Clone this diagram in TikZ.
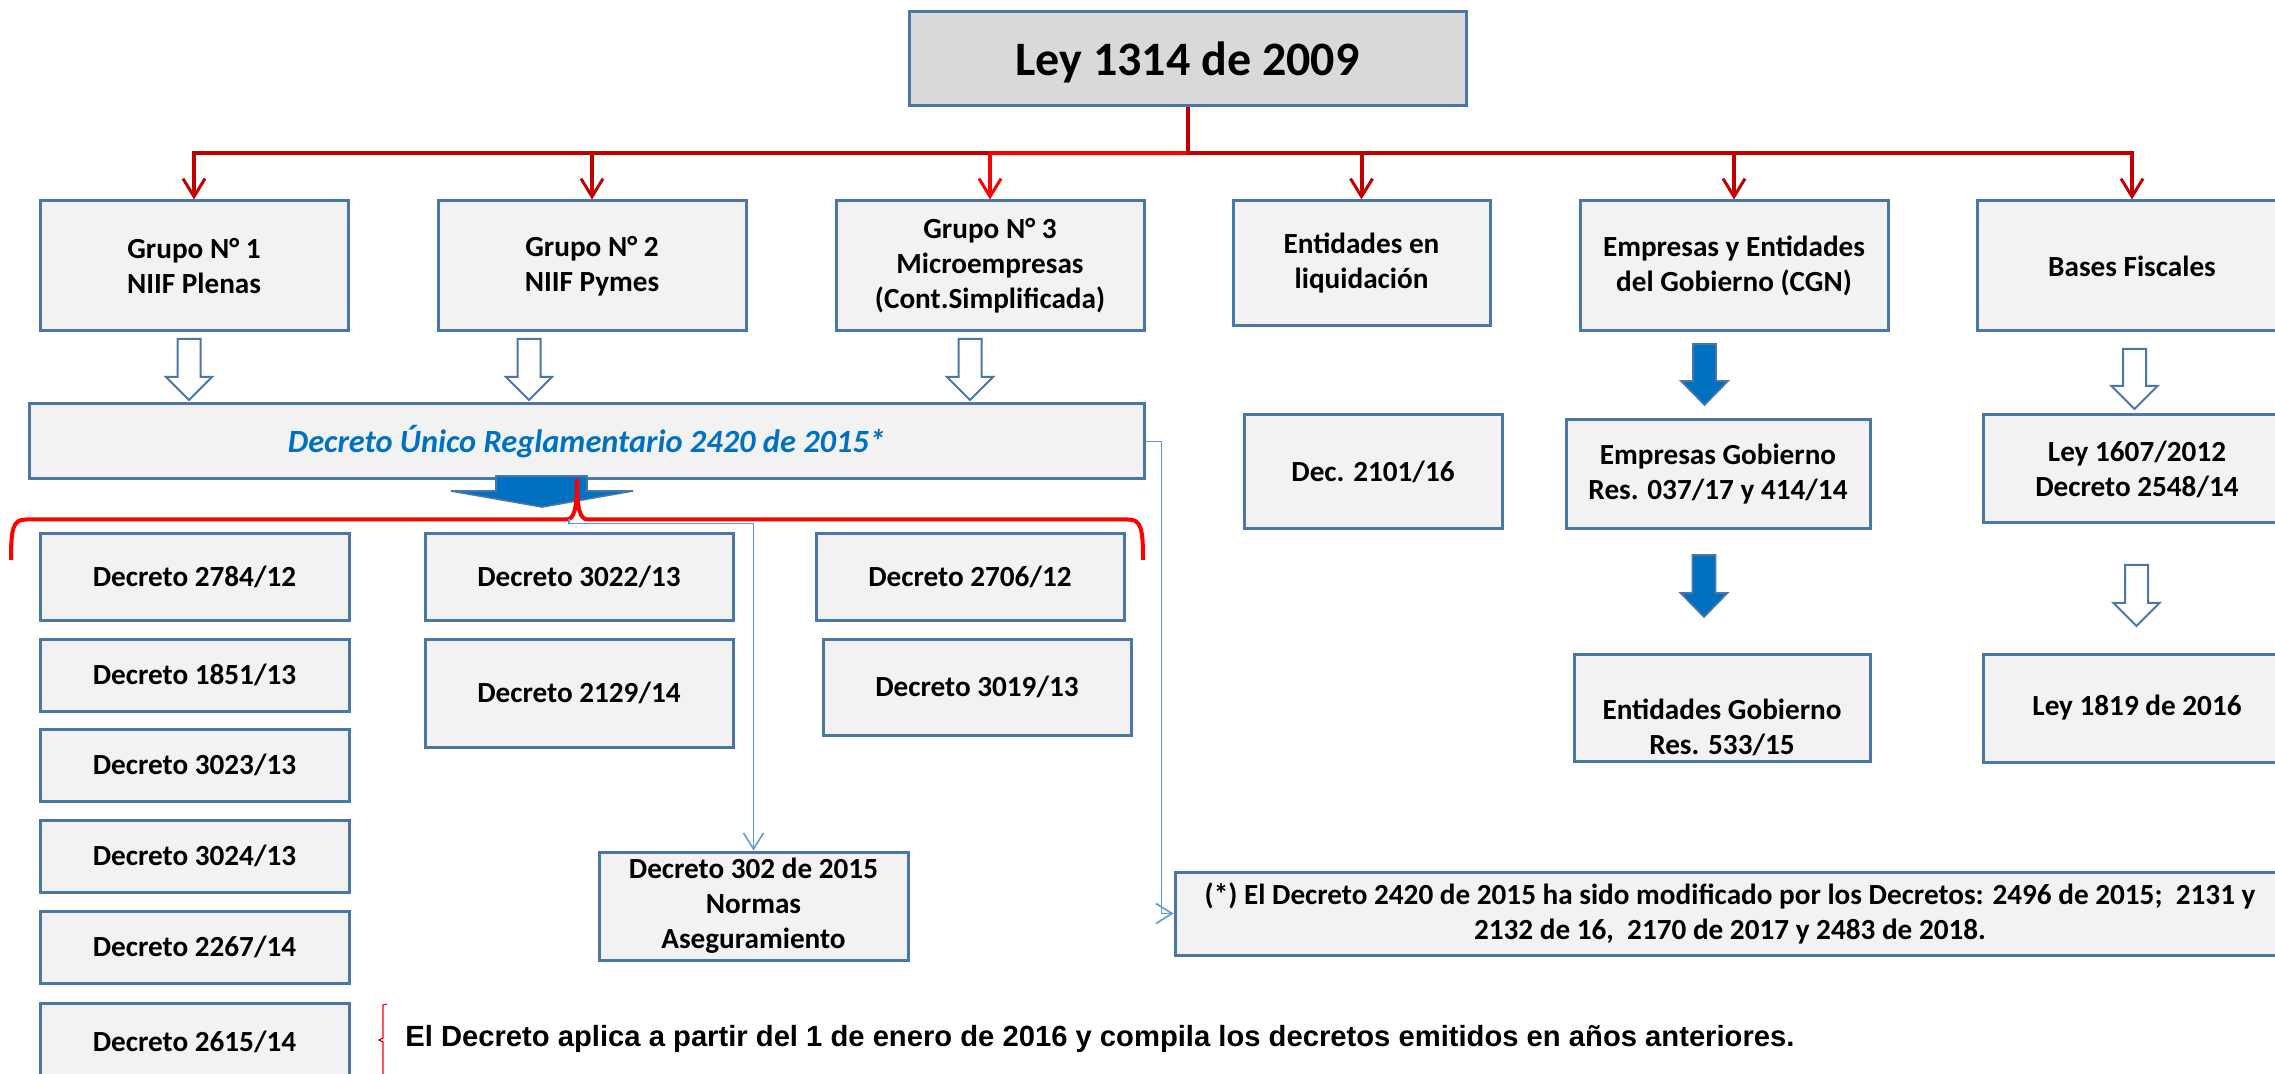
\documentclass[tikz,border=0pt]{standalone}
\usepackage{fontspec}
\setmainfont{Carlito}
\newfontfamily\arialfont{Liberation Sans}
\usetikzlibrary{arrows.meta}
\definecolor{boxline}{HTML}{4A76A8}
\definecolor{boxfill}{HTML}{F2F2F2}
\definecolor{leyfill}{HTML}{D9D9D9}
\definecolor{dkred}{HTML}{C00000}
\definecolor{brred}{HTML}{FF0000}
\definecolor{solidblue}{HTML}{0070C0}
\definecolor{ltblue}{HTML}{5B9BD5}
% #1 options, #2 name, #3 x1, #4 y1, #5 x2, #6 y2, #7 text  (px coordinates, 1px = 0.5pt)
\newcommand\mkbox[7][]{%
  \pgfmathsetmacro\mkcx{(#3+#5)/2}\pgfmathsetmacro\mkcy{(#4+#6)/2}%
  \pgfmathsetmacro\mkw{(#5-#3)*0.5}\pgfmathsetmacro\mkh{(#6-#4)*0.5}%
  \node[box, minimum width=\mkw pt, minimum height=\mkh pt, #1] (#2) at (\mkcx,\mkcy) {#7};}
\begin{document}
\begin{tikzpicture}[x=0.5pt,y=-0.5pt,
  box/.style={draw=boxline, line width=1.5pt, fill=boxfill, inner sep=0pt, align=center,
    font=\bfseries\fontsize{14.6}{17.5}\selectfont},
  redconn/.style={draw=dkred, line width=2pt, -{Straight Barb[length=9pt,width=11pt,line width=1.5pt]}},
  brconn/.style={redconn, draw=brred},
  ltconn/.style={draw=ltblue, line width=0.8pt, -{Straight Barb[length=8pt,width=10pt,line width=0.8pt]}},
  hollowarr/.style={draw=boxline, line width=1pt, fill=white},
  solidarr/.style={draw=boxline, line width=0.8pt, fill=solidblue},
]
\useasboundingbox (0,0) rectangle (2275,1074);
\clip (0,0) rectangle (2275,1074);

% top
\mkbox[fill=leyfill, font=\bfseries\fontsize{24}{28}\selectfont]{ley}{909}{12}{1466}{106}{\raisebox{-8.5pt}[0pt][0pt]{Ley 1314 de 2009}}

% level 1
\mkbox{g1}{40}{201}{348}{331}{Grupo N° 1\\NIIF Plenas}
\mkbox{g2}{438}{201}{746}{331}{Grupo N° 2\\NIIF Pymes}
\mkbox{g3}{836}{201}{1144}{331}{Grupo N° 3\\Microempresas\\(Cont.Simplificada)}
\mkbox{liq}{1233}{201}{1490}{326}{Entidades en\\liquidación}
\mkbox{gob}{1580}{201}{1888}{331}{Empresas y Entidades\\del Gobierno (CGN)}
\mkbox{bases}{1977}{201}{2287}{331}{Bases Fiscales}

% connectors from Ley
\coordinate (bus) at (1188,153.5);
\draw[redconn] (ley.south) -- (ley.south |- bus) -| (g1.north);
\draw[redconn] (ley.south) -- (ley.south |- bus) -| (g2.north);
\draw[brconn] (ley.south |- bus) -| (g3.north);
\draw[redconn] (ley.south) -- (ley.south |- bus) -| (liq.north);
\draw[redconn] (ley.south) -- (ley.south |- bus) -| (gob.north);
\draw[redconn] (ley.south) -- (ley.south |- bus) -| (bases.north);

% hollow arrows under groups
\draw[hollowarr] (189,339) ++(-11.5,0) -- ++(23,0) -- ++(0,38) -- ++(11.5,0) -- ++(-23,23) -- ++(-23,-23) -- ++(11.5,0) -- cycle;
\draw[hollowarr] (529,339) ++(-11.5,0) -- ++(23,0) -- ++(0,38) -- ++(11.5,0) -- ++(-23,23) -- ++(-23,-23) -- ++(11.5,0) -- cycle;
\draw[hollowarr] (970,339) ++(-11.5,0) -- ++(23,0) -- ++(0,38) -- ++(11.5,0) -- ++(-23,23) -- ++(-23,-23) -- ++(11.5,0) -- cycle;
\draw[hollowarr] (2134.5,349) ++(-11.5,0) -- ++(23,0) -- ++(0,37) -- ++(11.5,0) -- ++(-23,23) -- ++(-23,-23) -- ++(11.5,0) -- cycle;
\draw[hollowarr] (2136.5,565) ++(-11.5,0) -- ++(23,0) -- ++(0,38) -- ++(11.5,0) -- ++(-23,23) -- ++(-23,-23) -- ++(11.5,0) -- cycle;
% solid blue arrows
\draw[solidarr] (1704.5,344) ++(-11.5,0) -- ++(23,0) -- ++(0,37) -- ++(12,0) -- ++(-23.5,24) -- ++(-23.5,-24) -- ++(12,0) -- cycle;
\draw[solidarr] (1704,555) ++(-11.5,0) -- ++(23,0) -- ++(0,38) -- ++(12,0) -- ++(-23.5,24) -- ++(-23.5,-24) -- ++(12,0) -- cycle;

% DUR
\mkbox[text=solidblue, font=\bfseries\itshape\fontsize{16.2}{19}\selectfont]{dur}{29}{404}{1144}{479}{Decreto Único Reglamentario 2420 de 2015*}
\draw[solidarr] (496,476) -- (587,476) -- (587,491) -- (633,491) -- (542,507) -- (451,491) -- (496,491) -- cycle;

% right side level 2/3
\mkbox{dec2101}{1244}{415}{1502}{529}{Dec. 2101/16}
\mkbox{empgob}{1566}{420}{1870}{529}{Empresas Gobierno\\Res. 037/17 y 414/14}
\mkbox{ley1607}{1983}{415}{2291}{523}{Ley 1607/2012\\Decreto 2548/14}
\mkbox{entgob}{1574}{654}{1870}{761}{\mbox{}\\[13pt]Entidades Gobierno\\Res. 533/15}
\mkbox{ley1819}{1983}{654}{2291}{762}{Ley 1819 de 2016}

% decretos
\mkbox{d2784}{40}{534}{349}{620}{Decreto 2784/12}
\mkbox{d1851}{40}{639}{349}{711}{Decreto 1851/13}
\mkbox{d3023}{40}{729}{349}{801}{Decreto 3023/13}
\mkbox{d3024}{40}{820}{349}{892}{Decreto 3024/13}
\mkbox{d2267}{40}{911}{349}{983}{Decreto 2267/14}
\mkbox{d2615}{40}{1003}{349}{1080}{Decreto 2615/14}
\mkbox{d3022}{425}{534}{733}{620}{Decreto 3022/13}
\mkbox{d2129}{425}{639}{733}{747}{Decreto 2129/14}
\mkbox{d2706}{816}{534}{1124}{620}{Decreto 2706/12}
\mkbox{d3019}{823}{639}{1131}{735}{Decreto 3019/13}
\mkbox{d302}{599}{852}{908}{960}{Decreto 302 de 2015\\Normas\\Aseguramiento}
\mkbox{foot}{1175}{872}{2285}{955}{(*) El Decreto 2420 de 2015 ha sido modificado por los Decretos: 2496 de 2015;\ \ 2131 y\\2132 de 16,\ \ 2170 de 2017 y 2483 de 2018.}

% red brace
\draw[brred, line width=2pt] (11,560) .. controls (11,528) and (13,519.5) .. (26,519.5) -- (566,519.5)
  .. controls (574,519.5) and (577,510) .. (577,479)
  .. controls (577,510) and (580,519.5) .. (588,519.5) -- (1128,519.5)
  .. controls (1141,519.5) and (1143,528) .. (1143,560);

% light blue connectors
\coordinate (bracefoot) at (569,519.5);
\draw[ltconn] (bracefoot) -- ++(0,4) -| (d302.north);
\draw[ltconn] (dur.east) -- ++(16,0) |- (foot.west);

% bottom note
\draw[brred, line width=0.6pt] (387,1004) -- (383,1005) -- (383,1038) -- (379,1040) -- (383,1042) -- (383,1090);
\node[anchor=west, inner sep=0pt, font=\arialfont\bfseries\fontsize{14.6}{17}\selectfont] (note) at (405,1039) {El Decreto aplica a partir del 1 de enero de 2016 y compila los decretos emitidos en años anteriores.};
\end{tikzpicture}
\end{document}
